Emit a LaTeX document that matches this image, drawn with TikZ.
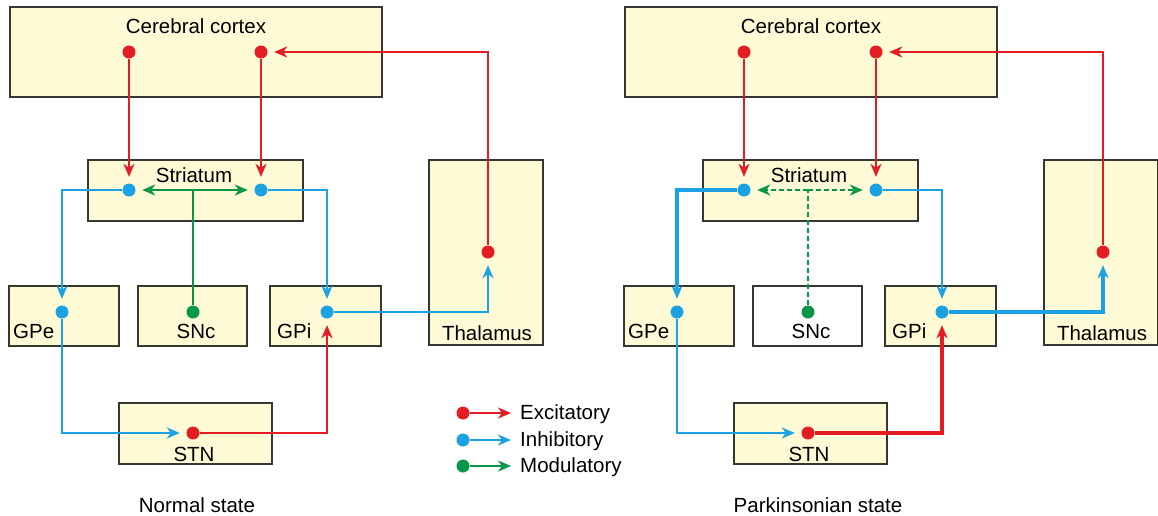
\documentclass[tikz,border=0pt]{standalone}
\usepackage{fontspec}
\setmainfont{Liberation Sans}
\usetikzlibrary{arrows.meta}

\definecolor{rouge}{RGB}{228,28,36}
\definecolor{bleu}{RGB}{28,162,226}
\definecolor{vert}{RGB}{8,150,72}
\definecolor{creme}{RGB}{255,250,214}
\definecolor{bord}{RGB}{55,55,50}

\tikzset{
  boite/.style={draw=bord, line width=2pt, fill=creme, inner sep=0pt},
  etiquette/.style={inner sep=0pt},
  neurone/.style={circle, fill=#1, inner sep=0pt, minimum size=13pt},
  fleche/.style={draw=#1, line width=2.5pt, -{Stealth[length=13pt,width=11pt,inset=4pt]}, shorten >=6.5pt},
  exc/.style={fleche=rouge},
  inh/.style={fleche=bleu},
  mod/.style={fleche=vert},
  modtrait/.style={draw=vert, line width=2.5pt}
}

\begin{document}
\begin{tikzpicture}[x=1pt, y=-1pt, font=\fontsize{20.5}{24}\selectfont]

% Cadre
\useasboundingbox (0,0) rectangle (1158,515);
\fill[white] (0,0) rectangle (1158,515);

% Etat normal
\begin{scope}
% Boites
\node[boite, minimum width=372pt, minimum height=90pt] (ncortex) at (196,52) {};
\node[boite, minimum width=215pt, minimum height=61pt] (nstriatum) at (195.5,190.5) {};
\node[boite, minimum width=114pt, minimum height=185pt] (nthalamus) at (486,252.5) {};
\node[boite, minimum width=110pt, minimum height=60pt] (ngpe) at (64,316) {};
\node[boite, minimum width=109pt, minimum height=60pt] (nsnc) at (192.5,316) {};
\node[boite, minimum width=111pt, minimum height=60pt] (ngpi) at (325.5,316) {};
\node[boite, minimum width=153pt, minimum height=61pt] (nstn) at (195.5,433.5) {};

% Noms
\node[etiquette, anchor=base] (ncortex-t) at (196,33) {Cerebral cortex};
\node[etiquette, anchor=base] (nstriatum-t) at (194,182) {Striatum};
\node[etiquette, anchor=base] (nthalamus-t) at (487,340) {Thalamus};
\node[etiquette, anchor=base west] (ngpe-t) at (13,338) {GPe};
\node[etiquette, anchor=base] (nsnc-t) at (196,338) {SNc};
\node[etiquette, anchor=base west] (ngpi-t) at (277,338) {GPi};
\node[etiquette, anchor=base] (nstn-t) at (194,461) {STN};
\node[etiquette, anchor=base] (ntitre) at (197,512) {Normal state};

% Neurones
\node[neurone=rouge] (nc1) at (129,52) {};
\node[neurone=rouge] (nc2) at (261,52) {};
\node[neurone=bleu] (ns1) at (129,190) {};
\node[neurone=bleu] (ns2) at (261,190) {};
\node[neurone=bleu] (ngpe-n) at (62,312) {};
\node[neurone=vert] (nsnc-n) at (193,312) {};
\node[neurone=bleu] (ngpi-n) at (327,312) {};
\node[neurone=rouge] (nstn-n) at (193,433) {};
\node[neurone=rouge] (nth-n) at (488,252) {};

% Voies excitatrices
\draw[exc] (nc1) -- (ns1);
\draw[exc] (nc2) -- (ns2);
\draw[exc] (nth-n) |- (nc2);
\draw[exc] (nstn-n) -| (ngpi-n);

% Voies inhibitrices
\draw[inh] (ns1) -| (ngpe-n);
\draw[inh] (ns2) -| (ngpi-n);
\draw[inh] (ngpe-n) |- (nstn-n);
\draw[inh] (ngpi-n) -| (nth-n);

% Voie modulatrice
\coordinate (nm) at (nsnc-n |- ns1);
\draw[modtrait] (nsnc-n) -- (nm);
\draw[mod] (nm) -- (ns1);
\draw[mod] (nm) -- (ns2);
\end{scope}

% Etat parkinsonien
\begin{scope}[xshift=615pt]
% Boites
\node[boite, minimum width=372pt, minimum height=90pt] (pcortex) at (196,52) {};
\node[boite, minimum width=215pt, minimum height=61pt] (pstriatum) at (195.5,190.5) {};
\node[boite, minimum width=114pt, minimum height=185pt] (pthalamus) at (486,252.5) {};
\node[boite, minimum width=110pt, minimum height=60pt] (pgpe) at (64,316) {};
\node[boite, fill=white, minimum width=109pt, minimum height=60pt] (psnc) at (192.5,316) {};
\node[boite, minimum width=111pt, minimum height=60pt] (pgpi) at (325.5,316) {};
\node[boite, minimum width=153pt, minimum height=61pt] (pstn) at (195.5,433.5) {};

% Noms
\node[etiquette, anchor=base] (pcortex-t) at (196,33) {Cerebral cortex};
\node[etiquette, anchor=base] (pstriatum-t) at (194,182) {Striatum};
\node[etiquette, anchor=base] (pthalamus-t) at (487,340) {Thalamus};
\node[etiquette, anchor=base west] (pgpe-t) at (13,338) {GPe};
\node[etiquette, anchor=base] (psnc-t) at (196,338) {SNc};
\node[etiquette, anchor=base west] (pgpi-t) at (277,338) {GPi};
\node[etiquette, anchor=base] (pstn-t) at (194,461) {STN};
\node[etiquette, anchor=base] (ptitre) at (203,512) {Parkinsonian state};

% Neurones
\node[neurone=rouge] (pc1) at (129,52) {};
\node[neurone=rouge] (pc2) at (261,52) {};
\node[neurone=bleu] (ps1) at (129,190) {};
\node[neurone=bleu] (ps2) at (261,190) {};
\node[neurone=bleu] (pgpe-n) at (62,312) {};
\node[neurone=vert] (psnc-n) at (193,312) {};
\node[neurone=bleu] (pgpi-n) at (327,312) {};
\node[neurone=rouge] (pstn-n) at (193,433) {};
\node[neurone=rouge] (pth-n) at (488,252) {};

% Voies excitatrices
\draw[exc, line width=1.5pt] (pc1) -- (ps1);
\draw[exc, line width=1.5pt] (pc2) -- (ps2);
\draw[exc, line width=1.5pt] (pth-n) |- (pc2);
\draw[exc, line width=4.5pt] (pstn-n) -| (pgpi-n);

% Voies inhibitrices
\draw[inh, line width=4.5pt] (ps1) -| (pgpe-n);
\draw[inh, line width=1.5pt] (ps2) -| (pgpi-n);
\draw[inh, line width=1.5pt] (pgpe-n) |- (pstn-n);
\draw[inh, line width=4.5pt] (pgpi-n) -| (pth-n);

% Voie modulatrice (affaiblie)
\coordinate (pm) at (psnc-n |- ps1);
\draw[modtrait, dash pattern=on 5pt off 3pt] (psnc-n) -- (pm);
\draw[mod, dash pattern=on 5pt off 3pt] (pm) -- (ps1);
\draw[mod, dash pattern=on 5pt off 3pt] (pm) -- (ps2);
\end{scope}

% Legende
\node[neurone=rouge] (lexc) at (463,413) {};
\node[neurone=bleu] (linh) at (463,440) {};
\node[neurone=vert] (lmod) at (463,466) {};
\coordinate (lexc-f) at (511,413);
\coordinate (linh-f) at (511,440);
\coordinate (lmod-f) at (511,466);
\draw[exc, shorten >=0pt] (lexc) -- (lexc-f);
\draw[inh, shorten >=0pt] (linh) -- (linh-f);
\draw[mod, shorten >=0pt] (lmod) -- (lmod-f);
\node[etiquette, anchor=base west] (lexc-t) at (520,419) {Excitatory};
\node[etiquette, anchor=base west] (linh-t) at (520,446) {Inhibitory};
\node[etiquette, anchor=base west] (lmod-t) at (520,472) {Modulatory};

\end{tikzpicture}
\end{document}
